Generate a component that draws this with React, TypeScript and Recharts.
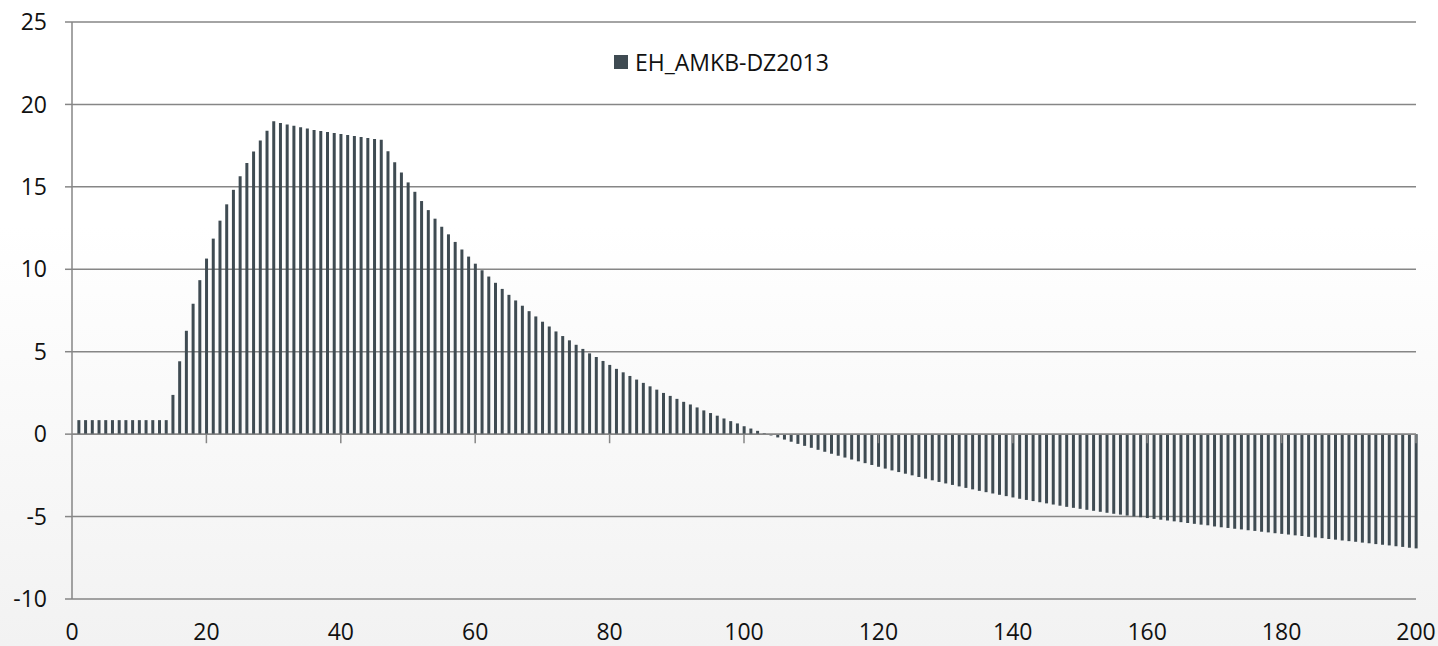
import React from 'react';
import { BarChart, Bar, XAxis, YAxis, CartesianGrid, ReferenceLine, Legend } from 'recharts';

const seriesName = 'EH_AMKB-DZ2013';

// one bar per step, step 1 .. 200
const values = [
  0.85, 0.85, 0.85, 0.85, 0.85, 0.85, 0.85, 0.85, 0.85, 0.85,
  0.85, 0.85, 0.85, 0.85, 2.38, 4.42, 6.27, 7.91, 9.34, 10.65,
  11.86, 12.95, 13.94, 14.82, 15.65, 16.44, 17.14, 17.81, 18.41, 18.98,
  18.88, 18.78, 18.7, 18.61, 18.54, 18.45, 18.39, 18.33, 18.27, 18.21,
  18.15, 18.09, 18.03, 17.97, 17.9, 17.85, 17.16, 16.5, 15.87, 15.27,
  14.7, 14.14, 13.59, 13.07, 12.58, 12.12, 11.66, 11.2, 10.77, 10.34,
  9.94, 9.56, 9.18, 8.81, 8.45, 8.11, 7.79, 7.46, 7.14, 6.82,
  6.53, 6.23, 5.95, 5.69, 5.42, 5.17, 4.9, 4.68, 4.44, 4.2,
  3.96, 3.75, 3.53, 3.31, 3.11, 2.9, 2.7, 2.5, 2.32, 2.14,
  1.96, 1.8, 1.62, 1.44, 1.28, 1.12, 0.95, 0.79, 0.65, 0.48,
  0.34, 0.2, 0.05, -0.08, -0.2, -0.33, -0.46, -0.59, -0.71, -0.83,
  -0.95, -1.07, -1.19, -1.31, -1.42, -1.54, -1.65, -1.76, -1.87, -1.98,
  -2.09, -2.2, -2.3, -2.4, -2.5, -2.6, -2.7, -2.8, -2.9, -2.99,
  -3.08, -3.17, -3.26, -3.35, -3.44, -3.52, -3.6, -3.68, -3.76, -3.84,
  -3.92, -3.99, -4.06, -4.13, -4.2, -4.27, -4.34, -4.41, -4.47, -4.53,
  -4.59, -4.65, -4.71, -4.77, -4.83, -4.88, -4.94, -4.99, -5.04, -5.09,
  -5.14, -5.19, -5.24, -5.29, -5.34, -5.39, -5.44, -5.49, -5.53, -5.6,
  -5.65, -5.69, -5.74, -5.78, -5.83, -5.87, -5.92, -5.96, -6.01, -6.05,
  -6.09, -6.14, -6.18, -6.23, -6.27, -6.31, -6.36, -6.4, -6.45, -6.49,
  -6.53, -6.58, -6.62, -6.67, -6.71, -6.75, -6.8, -6.84, -6.89, -6.93,
];

const xTicks = [0, 20, 40, 60, 80, 100, 120, 140, 160, 180, 200];
const yTicks = [-10, -5, 0, 5, 10, 15, 20, 25];

const data = values.map((v, i) => ({ step: i + 1, value: v }));

const AXIS = '#868686';
const BAR = '#3f4b52';
const FONT = '"Open Sans", sans-serif';

const LegendBox = () => (
  <div style={{ display: 'flex', alignItems: 'center', fontFamily: FONT, fontSize: 23, color: '#111' }}>
    <span style={{ width: 14, height: 14, background: BAR, marginRight: 7, display: 'inline-block' }} />
    <span>{seriesName}</span>
  </div>
);

export default function App() {
  return (
    <div
      style={{
        position: 'absolute',
        left: 0,
        top: 0,
        width: 1438,
        height: 646,
        background: 'linear-gradient(to bottom, #ffffff 0%, #ffffff 35%, #f2f2f2 100%)',
      }}
    >
      <BarChart width={1438} height={646} data={data} margin={{ top: 22, right: 22, bottom: 0, left: 0 }}>
        <CartesianGrid vertical={false} stroke={AXIS} strokeWidth={1.5} />
        <XAxis
          dataKey="step"
          type="number"
          domain={[0, 200]}
          ticks={xTicks}
          interval={0}
          height={47}
          axisLine={false}
          tickLine={false}
          tickSize={0}
          tickMargin={25}
          tick={{ fill: '#111', fontSize: 23, fontFamily: FONT }}
        />
        <YAxis
          domain={[-10, 25]}
          ticks={yTicks}
          interval={0}
          width={72}
          axisLine={{ stroke: AXIS, strokeWidth: 1.5 }}
          tickLine={{ stroke: AXIS, strokeWidth: 1.5 }}
          tickSize={7}
          tickMargin={18}
          tick={{ fill: '#111', fontSize: 23, fontFamily: FONT }}
        />
        <Legend
          layout="horizontal"
          verticalAlign="middle"
          align="center"
          content={() => <LegendBox />}
          wrapperStyle={{ position: 'absolute', top: 46, left: 614, width: 'auto' }}
        />
        <Bar dataKey="value" name={seriesName} fill={BAR} barSize={3} isAnimationActive={false} />
        <ReferenceLine y={0} stroke={AXIS} strokeWidth={1.5} />
        {xTicks.slice(1).map((t) => (
          <ReferenceLine
            key={t}
            segment={[
              { x: t, y: 0 },
              { x: t, y: -0.55 },
            ]}
            stroke={AXIS}
            strokeWidth={1.5}
          />
        ))}
      </BarChart>
    </div>
  );
}
